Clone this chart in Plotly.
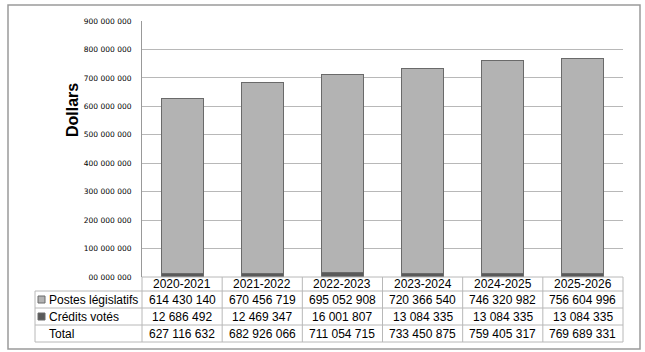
import plotly.graph_objects as go

years = ["2020-2021", "2021-2022", "2022-2023", "2023-2024", "2024-2025", "2025-2026"]
postes = [614430140, 670456719, 695052908, 720366540, 746320982, 756604996]
credits = [12686492, 12469347, 16001807, 13084335, 13084335, 13084335]
totals = [627116632, 682926066, 711054715, 733450875, 759405317, 769689331]
series_names = ["Postes législatifs", "Crédits votés", "Total"]
tick_vals = [0, 100000000, 200000000, 300000000, 400000000, 500000000,
             600000000, 700000000, 800000000, 900000000]
tick_text = ["00 000 000", "100 000 000", "200 000 000", "300 000 000", "400 000 000",
             "500 000 000", "600 000 000", "700 000 000", "800 000 000", "900 000 000"]

W, H = 645, 352
L, R, T, B = 142, 623, 21, 277
LIGHT = "#b3b3b3"
DARK = "#5a5a5a"
EDGE = "#6a6a6a"
GRID = "#b8b8b8"
TBL = "#b8b8b8"


def px(x):
    return (x - L) / (R - L)


def py(y):
    return (B - y) / (B - T)


def fmt(v):
    return f"{v:,}".replace(",", " ")


fig = go.Figure()
fig.add_trace(go.Bar(x=years, y=credits, name=series_names[1],
                     marker=dict(color=DARK, line=dict(color=EDGE, width=1))))
fig.add_trace(go.Bar(x=years, y=postes, name=series_names[0],
                     marker=dict(color=LIGHT, line=dict(color=EDGE, width=1))))

shapes = []
annotations = []

# outer frame
shapes.append(dict(type="rect", xref="paper", yref="paper",
                   x0=px(8), x1=px(640), y0=py(349), y1=py(5),
                   line=dict(color="#9a9a9a", width=1.5)))

# table grid
col_edges = [L + i * (R - L) / len(years) for i in range(len(years) + 1)]
row_lines = [291, 308, 325, 342]
for yl in row_lines:
    shapes.append(dict(type="line", xref="paper", yref="paper",
                       x0=px(35), x1=px(R), y0=py(yl), y1=py(yl),
                       line=dict(color=TBL, width=1)))
shapes.append(dict(type="line", xref="paper", yref="paper",
                   x0=px(L), x1=px(R), y0=py(B), y1=py(B),
                   line=dict(color=TBL, width=1)))
shapes.append(dict(type="line", xref="paper", yref="paper",
                   x0=px(35), x1=px(35), y0=py(291), y1=py(342),
                   line=dict(color=TBL, width=1)))
for xe in col_edges:
    shapes.append(dict(type="line", xref="paper", yref="paper",
                       x0=px(xe), x1=px(xe), y0=py(B), y1=py(342),
                       line=dict(color=TBL, width=1)))

tfont = dict(family="Liberation Sans, Arial", size=12, color="#000000")
row_centers = [299.5, 316.5, 333.5]
for i, yr in enumerate(years):
    cx = (col_edges[i] + col_edges[i + 1]) / 2
    annotations.append(dict(x=px(cx), y=py(284), xref="paper", yref="paper",
                            text=yr, showarrow=False, font=tfont,
                            xanchor="center", yanchor="middle"))
    for rc, vals in zip(row_centers, [postes, credits, totals]):
        annotations.append(dict(x=px(cx), y=py(rc), xref="paper", yref="paper",
                                text=fmt(vals[i]), showarrow=False, font=tfont,
                                xanchor="center", yanchor="middle"))

for rc, name in zip(row_centers, series_names):
    annotations.append(dict(x=px(47), y=py(rc), xref="paper", yref="paper",
                            text=name, showarrow=False, font=tfont,
                            xanchor="left", yanchor="middle"))

# legend keys
for rc, col in zip(row_centers[:2], [LIGHT, DARK]):
    shapes.append(dict(type="rect", xref="paper", yref="paper",
                       x0=px(38), x1=px(45), y0=py(rc + 3.5), y1=py(rc - 3.5),
                       fillcolor=col, line=dict(color=EDGE, width=1)))

annotations.append(dict(x=px(72), y=py(110), xref="paper", yref="paper",
                        text="<b>Dollars</b>", showarrow=False, textangle=-90,
                        font=dict(family="Liberation Sans, Arial", size=16, color="#000000"),
                        xanchor="center", yanchor="middle"))

fig.update_layout(
    width=W, height=H,
    margin=dict(l=L, r=W - R, t=T, b=H - B, pad=0),
    paper_bgcolor="white", plot_bgcolor="white",
    barmode="stack", bargap=0.475,
    showlegend=False,
    shapes=shapes, annotations=annotations,
    xaxis=dict(showticklabels=False, showgrid=False, zeroline=False,
               showline=False, ticks=""),
    yaxis=dict(range=[0, 900000000], tickvals=tick_vals, ticktext=tick_text,
               showgrid=True, gridcolor=GRID, gridwidth=1, zeroline=False,
               showline=True, linecolor="#999999", linewidth=1,
               ticks="", ticklabelstandoff=8,
               tickfont=dict(family="DejaVu Sans", size=7.5, color="#000000")),
)

fig.write_html("out.html")
